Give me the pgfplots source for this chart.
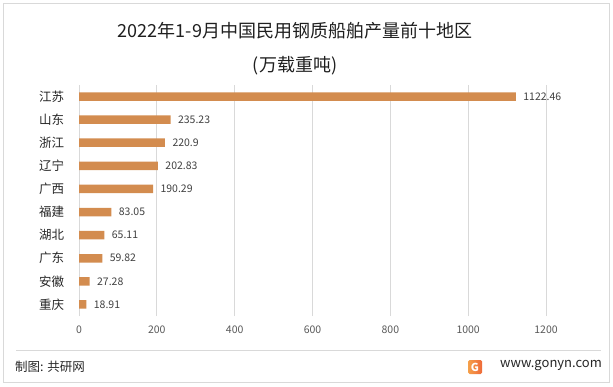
\documentclass[border=0pt]{standalone}
\usepackage{pgfplots}
\pgfplotsset{compat=1.18}
\usepackage{fontspec}
\setmainfont{Noto Sans CJK SC}
\definecolor{barc}{HTML}{D38C4F}
\definecolor{titc}{HTML}{1F1F1F}
\definecolor{labc}{HTML}{262626}
\definecolor{valc}{HTML}{404040}
\definecolor{tickc}{HTML}{595959}
\definecolor{gridc}{HTML}{D9D9D9}
\definecolor{logoa}{HTML}{F5A04A}
\definecolor{logob}{HTML}{EE6A3A}
\begin{document}
\begin{tikzpicture}
\path[use as bounding box] (0pt,0pt) rectangle (613pt,386pt);
\draw[color=gridc, line width=0.8pt] (3pt,4pt) rectangle (609pt,383pt);
\node[font=\fontsize{18}{20}\selectfont, text=titc] at (295pt,355pt) {2022年1-9月中国民用钢质船舶产量前十地区};
\node[font=\fontsize{18}{20}\selectfont, text=titc] at (295pt,320pt) {(万载重吨)};
\begin{axis}[
  at={(79pt,70pt)}, anchor=south west,
  scale only axis, width=467pt, height=231pt,
  xbar, bar width=8.5pt,
  xmin=0, xmax=1200, ymin=-0.5, ymax=9.5,
  xtick={0,200,...,1200},
  ytick={0,...,9},
  yticklabels={重庆,安徽,广东,湖北,福建,广西,辽宁,浙江,山东,江苏},
  xmajorgrids, major grid style={color=gridc, line width=0.7pt},
  axis line style={draw=none}, tick style={draw=none},
  /pgf/number format/assume math mode=true,
  /pgf/number format/1000 sep={},
  xticklabel style={font=\fontsize{10.5}{12}\selectfont, text=tickc, yshift=-6pt},
  yticklabel style={font=\fontsize{12.5}{14}\selectfont, text=labc, xshift=-7pt},
  point meta=explicit symbolic,
  nodes near coords={\pgfplotspointmeta},
  nodes near coords style={font=\fontsize{10.5}{12}\selectfont, text=valc, anchor=west, xshift=4pt},
]
\addplot[fill=barc, draw=none] coordinates {
 (18.91,0) [18.91]
 (27.28,1) [27.28]
 (59.82,2) [59.82]
 (65.11,3) [65.11]
 (83.05,4) [83.05]
 (190.29,5) [190.29]
 (202.83,6) [202.83]
 (220.9,7) [220.9]
 (235.23,8) [235.23]
 (1122.46,9) [1122.46]
};
\end{axis}
\draw[color=gridc, line width=0.7pt] (16pt,36pt) -- (601pt,36pt);
\node[anchor=west, font=\fontsize{12.5}{14}\selectfont, text=labc, inner sep=0pt] at (15pt,19pt) {制图: 共研网};
\node[anchor=east, font=\fontsize{13}{15}\selectfont, text=labc, inner sep=0pt] at (602pt,20pt) {www.gonyn.com};
\shade[left color=logoa, right color=logob, rounded corners=1.5pt] (468pt,12pt) rectangle (482pt,26pt);
\node[text=white, font=\bfseries\fontsize{11}{12}\selectfont, inner sep=0pt] at (475pt,19pt) {G};
\end{tikzpicture}
\end{document}
